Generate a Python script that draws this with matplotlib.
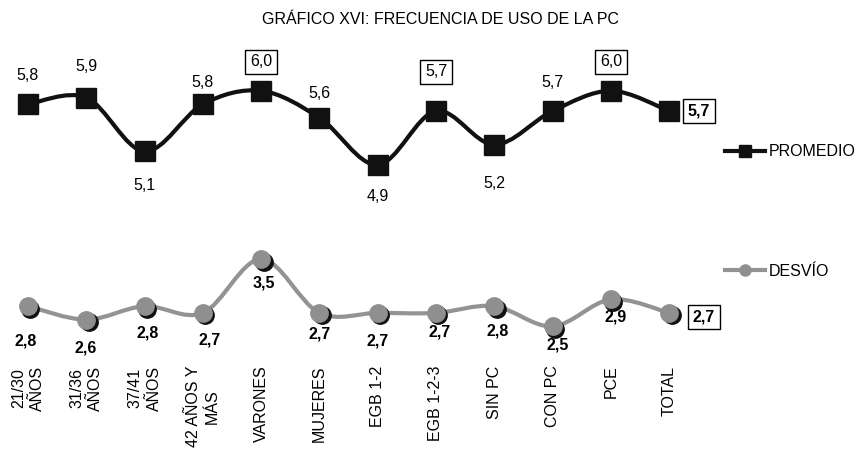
import matplotlib
matplotlib.use("Agg")
import matplotlib.pyplot as plt
from matplotlib.path import Path
from matplotlib.patches import PathPatch
from matplotlib.lines import Line2D
from matplotlib.transforms import offset_copy
import numpy as np

plt.rcParams['font.family'] = ['Liberation Sans', 'DejaVu Sans']

title = "GRÁFICO XVI: FRECUENCIA DE USO DE LA PC"
categories = ["21/30\nAÑOS", "31/36\nAÑOS", "37/41\nAÑOS", "42 AÑOS Y\nMÁS", "VARONES",
              "MUJERES", "EGB 1-2", "EGB 1-2-3", "SIN PC", "CON PC", "PCE", "TOTAL"]
promedio = [5.8, 5.9, 5.1, 5.8, 6.0, 5.6, 4.9, 5.7, 5.2, 5.7, 6.0, 5.7]
desvio = [2.8, 2.6, 2.8, 2.7, 3.5, 2.7, 2.7, 2.7, 2.8, 2.5, 2.9, 2.7]
series_names = ["PROMEDIO", "DESVÍO"]

# label placement (pixel offsets) and boxes
prom_off = [(0, 29), (0, 31), (0, -34), (0, 22), (0, 29), (0, 24), (0, -32), (0, 39), (0, -39), (0, 28), (0, 29), (30, 0)]
prom_box = [False, False, False, False, True, False, False, True, False, False, True, True]
desv_off = [(-2, -35), (-1, -28), (3, -27), (7, -27), (3, -24), (0, -21), (0, -28), (4, -19), (3, -25), (5, -19), (5, -18), (35, -4)]
desv_box = [False] * 11 + [True]

FS = 11.5

fig = plt.figure(figsize=(8.6, 4.53), dpi=100)
ax = fig.add_axes([0, 1 - 360 / 453, 700 / 860, 320 / 453])
ax.set_xlim(-0.48, 11.53)
ax.set_ylim(2.0, 6.755)
for s in ax.spines.values():
    s.set_visible(False)
ax.set_yticks([])


def smooth_path(xs, ys):
    pts = np.column_stack([xs, ys]).astype(float)
    n = len(pts)
    verts = [pts[0]]
    codes = [Path.MOVETO]
    for i in range(n - 1):
        p0 = pts[i - 1] if i > 0 else pts[i]
        p1 = pts[i]
        p2 = pts[i + 1]
        p3 = pts[i + 2] if i + 2 < n else pts[i + 1]
        c1 = p1 + (p2 - p0) / 6.0
        c2 = p2 - (p3 - p1) / 6.0
        verts += [c1, c2, p2]
        codes += [Path.CURVE4] * 3
    return Path(verts, codes)


x = np.arange(len(categories))

# PROMEDIO
ax.add_patch(PathPatch(smooth_path(x, promedio), fill=False, ec='#111111', lw=3.0, zorder=2,
                       capstyle='round', joinstyle='round'))
ax.plot(x, promedio, ls='none', marker='s', ms=14, color='#111111', zorder=3)

# DESVIO
ax.add_patch(PathPatch(smooth_path(x, desvio), fill=False, ec='#939393', lw=3.0, zorder=2,
                       capstyle='round', joinstyle='round'))
shadow_tr = offset_copy(ax.transData, fig=fig, x=2.5, y=-2.5, units='dots')
ax.plot(x, desvio, ls='none', marker='o', ms=12.5, color='#111111', transform=shadow_tr, zorder=3)
ax.plot(x, desvio, ls='none', marker='o', ms=12.5, color='#8f8f8f', zorder=4)

for i, v in enumerate(promedio):
    txt = f"{v:.1f}".replace('.', ',')
    bbox = dict(boxstyle='square,pad=0.3', fc='white', ec='black', lw=1) if prom_box[i] else None
    ax.annotate(txt, (i, v), xytext=prom_off[i], textcoords='offset pixels', ha='center', va='center',
                fontsize=FS, fontweight='bold' if i == len(promedio) - 1 else 'normal', bbox=bbox, zorder=5)

for i, v in enumerate(desvio):
    txt = f"{v:.1f}".replace('.', ',')
    bbox = dict(boxstyle='square,pad=0.3', fc='white', ec='black', lw=1) if desv_box[i] else None
    ax.annotate(txt, (i, v), xytext=desv_off[i], textcoords='offset pixels', ha='center', va='center',
                fontsize=FS, fontweight='bold', bbox=bbox, zorder=5)

ax.set_xticks(x)
ax.set_xticklabels(categories, rotation=90, ha='center', va='top', multialignment='center',
                   fontsize=FS, linespacing=1.35)
ax.tick_params(axis='x', length=0, pad=4)

fig.text(440 / 860, 1 - 19 / 453, title, ha='center', va='center', fontsize=FS)

h1 = Line2D([], [], color='#111111', lw=3, marker='s', ms=8)
h2 = Line2D([], [], color='#939393', lw=3, marker='o', ms=8, mfc='#8f8f8f', mec='#8f8f8f')
leg1 = ax.legend([h1], [series_names[0]], loc='center left', bbox_to_anchor=(725 / 860, 1 - 152 / 453),
                 bbox_transform=fig.transFigure, frameon=False, fontsize=FS, borderpad=0, borderaxespad=0,
                 handlelength=2.5, handletextpad=0.25)
ax.add_artist(leg1)
ax.legend([h2], [series_names[1]], loc='center left', bbox_to_anchor=(725 / 860, 1 - 271 / 453),
          bbox_transform=fig.transFigure, frameon=False, fontsize=FS, borderpad=0, borderaxespad=0,
          handlelength=2.5, handletextpad=0.25)

fig.savefig("out.png", dpi=100)
